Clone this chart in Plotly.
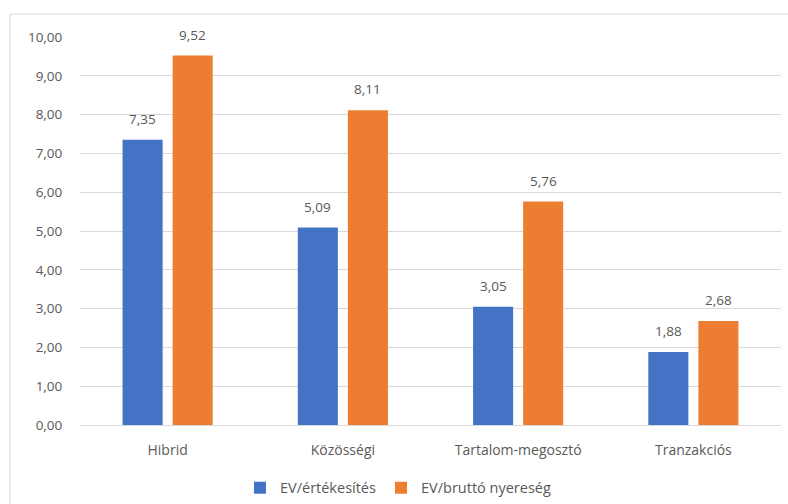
import plotly.graph_objects as go

categories = ["Hibrid", "Közösségi", "Tartalom-megosztó", "Tranzakciós"]
ev_sales = [7.35, 5.09, 3.05, 1.88]
ev_gross = [9.52, 8.11, 5.76, 2.68]
series_names = ["EV/értékesítés", "EV/bruttó nyereség"]
colors = ["#4472C4", "#ED7D31"]

FONT = "'Open Sans', sans-serif"
GRAY = "#595959"
FS = 13.5

fig = go.Figure()
for name, vals, col in zip(series_names, [ev_sales, ev_gross], colors):
    fig.add_trace(go.Bar(x=categories, y=vals, name=name, marker_color=col,
                         marker_line_width=0))

# value labels above each bar
annotations = []
for shift, vals in zip([-25, 25], [ev_sales, ev_gross]):
    for c, v in zip(categories, vals):
        annotations.append(dict(x=c, y=v, xref="x", yref="y", xshift=shift, yshift=10,
                                text=f"{v:.2f}".replace(".", ","), showarrow=False,
                                yanchor="bottom", font=dict(family=FONT, size=FS, color=GRAY)))

fig.update_layout(
    width=788, height=504,
    margin=dict(l=80, r=7, t=37, b=79, autoexpand=False),
    paper_bgcolor="white", plot_bgcolor="white",
    separators=", ",
    barmode="group", bargap=0.4286, bargroupgap=0.2,
    font=dict(family=FONT, size=FS, color=GRAY),
    annotations=annotations,
    showlegend=True,
    legend=dict(orientation="h", x=0.4536, xanchor="center", yref="container", y=0.032,
                yanchor="middle", font=dict(family=FONT, size=14.5, color=GRAY),
                itemwidth=30, traceorder="normal"),
    shapes=[
        dict(type="line", xref="paper", yref="paper",
             x0=(10 - 80) / 701, x1=1.02, y0=1 + 23 / 388, y1=1 + 23 / 388,
             line=dict(color="#D9D9D9", width=1)),
        dict(type="line", xref="paper", yref="paper",
             x0=(10 - 80) / 701, x1=(10 - 80) / 701, y0=1 + 23 / 388, y1=-0.21,
             line=dict(color="#D9D9D9", width=1)),
    ],
)
fig.update_yaxes(range=[0, 10], dtick=1, tickformat=".2f", showgrid=True,
                 gridcolor="#D9D9D9", gridwidth=1, zeroline=False, automargin=False,
                 ticks="outside", ticklen=14, tickcolor="rgba(0,0,0,0)",
                 tickfont=dict(family=FONT, size=FS, color=GRAY))
fig.update_xaxes(showline=True, linecolor="#D9D9D9", linewidth=1, automargin=False,
                 ticks="outside", ticklen=12, tickcolor="rgba(0,0,0,0)",
                 tickfont=dict(family=FONT, size=14, color=GRAY))

fig.write_html("out.html")
